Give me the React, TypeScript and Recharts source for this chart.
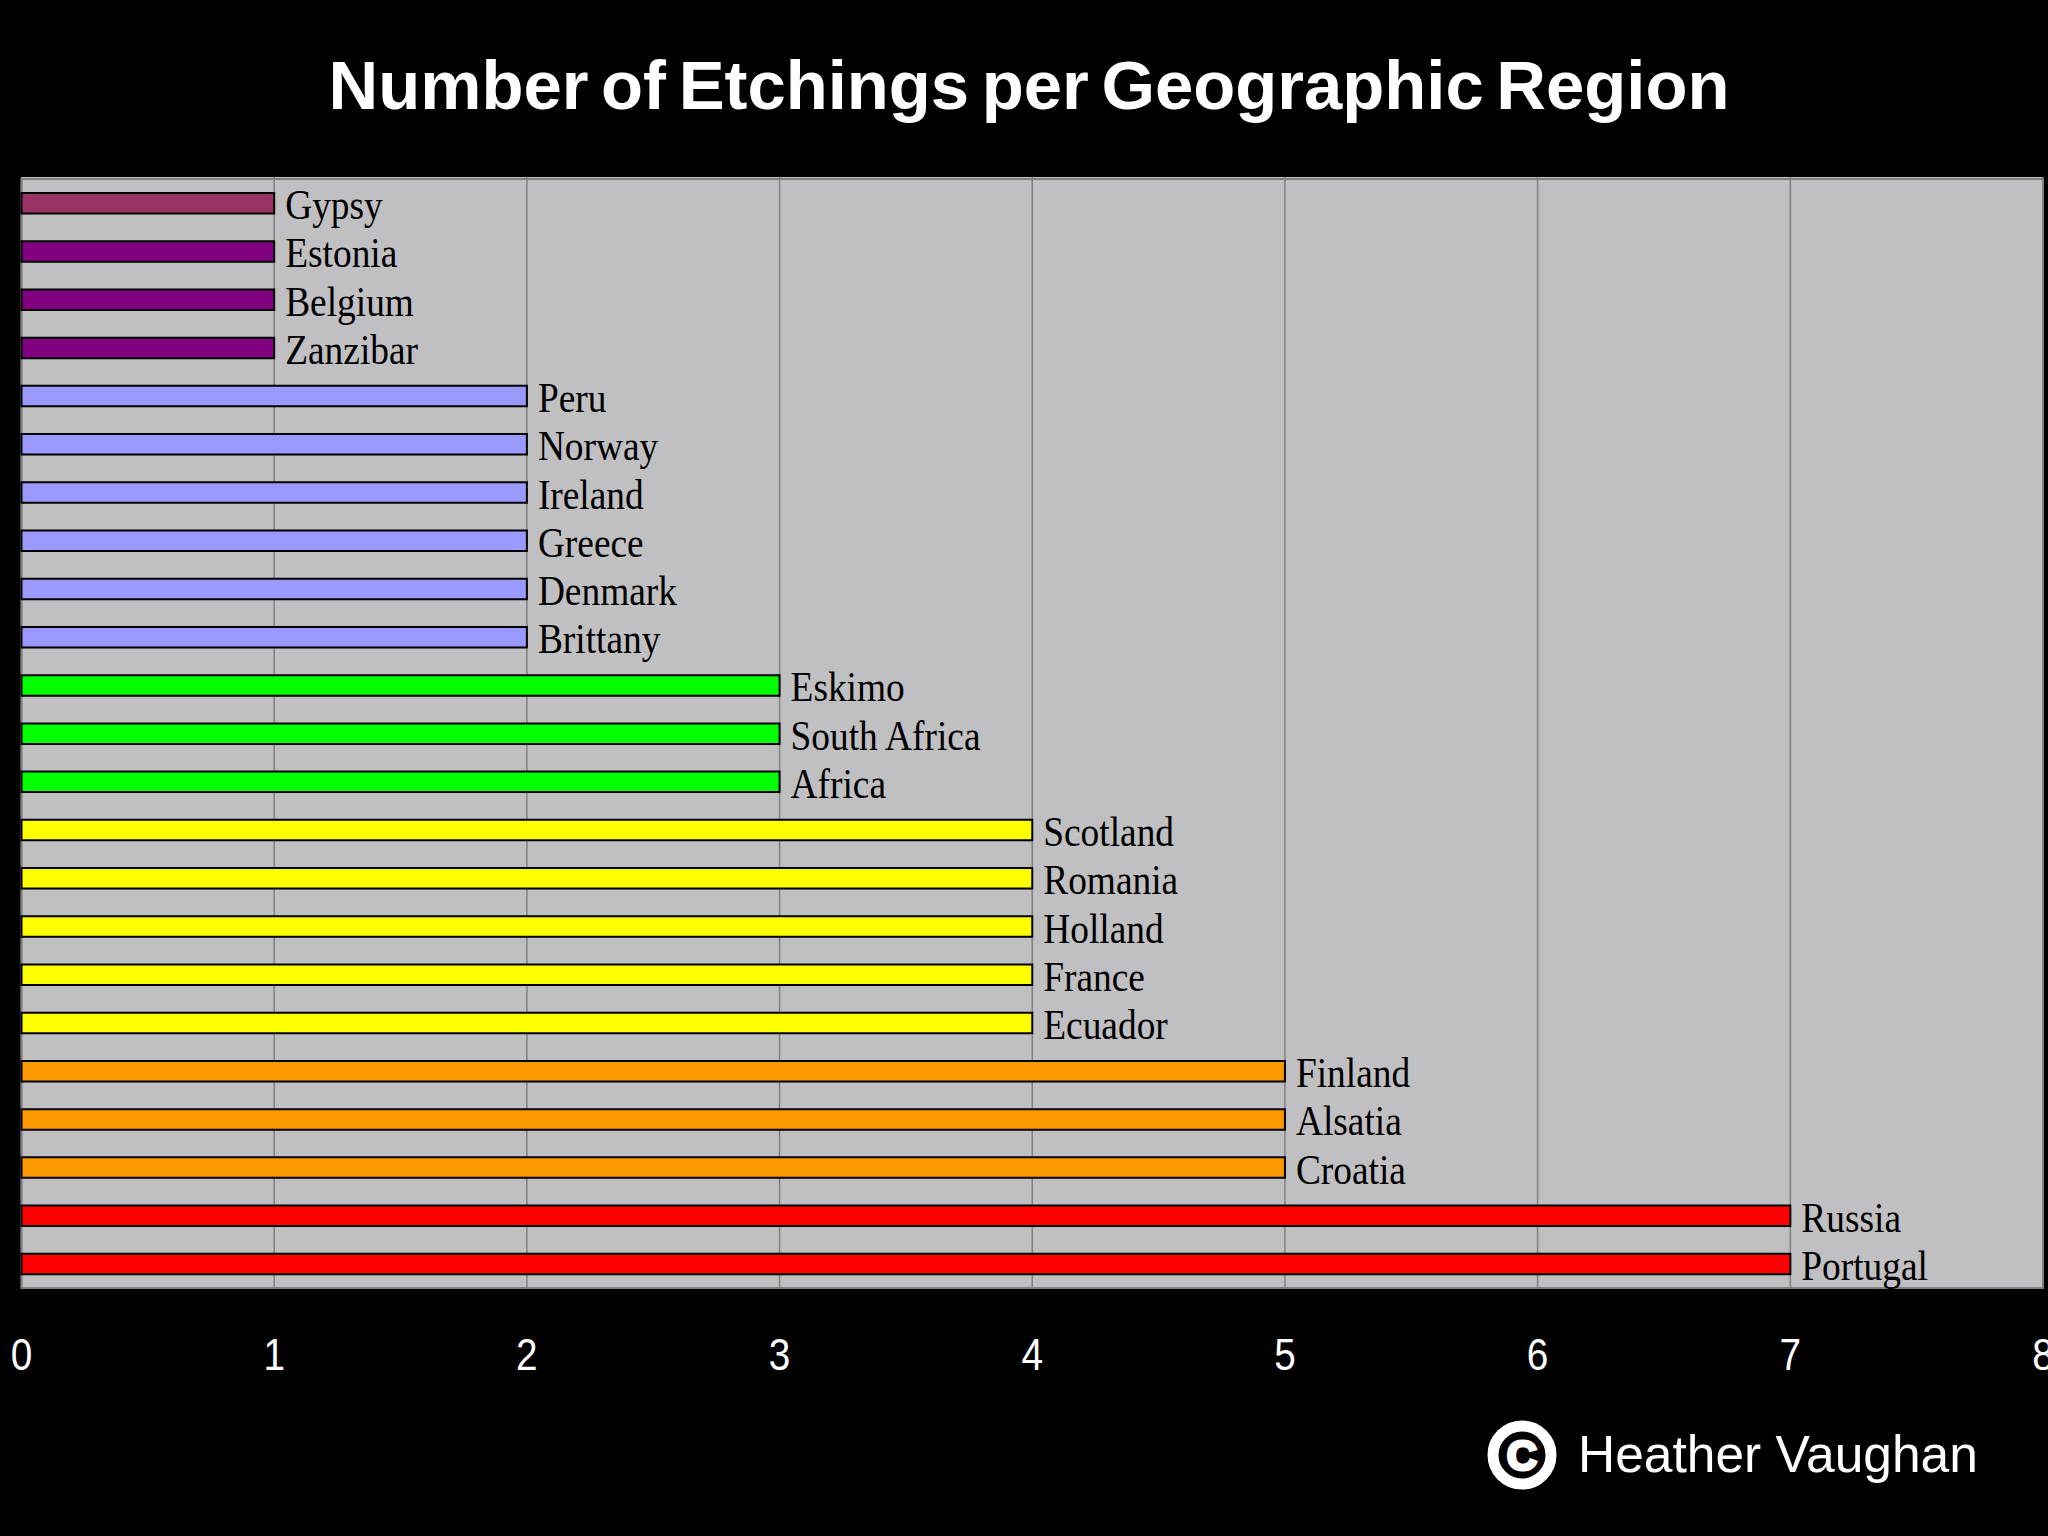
import { BarChart, Bar, Cell, XAxis, YAxis, CartesianGrid, LabelList, ReferenceArea } from 'recharts'

const regions = ['Gypsy', 'Estonia', 'Belgium', 'Zanzibar', 'Peru', 'Norway', 'Ireland', 'Greece', 'Denmark', 'Brittany', 'Eskimo', 'South Africa', 'Africa', 'Scotland', 'Romania', 'Holland', 'France', 'Ecuador', 'Finland', 'Alsatia', 'Croatia', 'Russia', 'Portugal']
const counts = [1, 1, 1, 1, 2, 2, 2, 2, 2, 2, 3, 3, 3, 4, 4, 4, 4, 4, 5, 5, 5, 7, 7]
const barColors = ['#993366', '#800080', '#800080', '#800080', '#9999ff', '#9999ff', '#9999ff', '#9999ff', '#9999ff', '#9999ff', '#00ff00', '#00ff00', '#00ff00', '#ffff00', '#ffff00', '#ffff00', '#ffff00', '#ffff00', '#ff9900', '#ff9900', '#ff9900', '#ff0000', '#ff0000']
const xTicks = [0, 1, 2, 3, 4, 5, 6, 7, 8]

const data = regions.map((name, i) => ({ name, value: counts[i] }))

const RegionLabel = ({ x, y, width, height, value }: any) => (
  <text
    transform={`translate(${x + width + 11},${y + height / 2 + 16}) scale(0.89,1)`}
    fontFamily="Liberation Serif"
    fontSize={42}
    fill="#000"
  >
    {value}
  </text>
)

const XTick = ({ x, y, payload }: any) => (
  <text
    transform={`translate(${x},${y}) scale(0.88,1)`}
    textAnchor="middle"
    fontFamily="Liberation Sans"
    fontSize={44}
    fill="#fff"
  >
    {payload.value}
  </text>
)

export default function App() {
  return (
    <div style={{ position: 'absolute', left: 0, top: 0, width: 2048, height: 1536, background: '#000', overflow: 'hidden' }}>
      <BarChart
        width={2048}
        height={1536}
        data={data}
        layout="vertical"
        barCategoryGap={0}
        margin={{ top: 177, right: 5, bottom: 189, left: 21.5 }}
      >
        <CartesianGrid horizontal={false} fill="#c0bfc1" stroke="#808080" strokeWidth={1.5} />
        <XAxis type="number" domain={[0, 8]} ticks={xTicks} height={60} axisLine={false} tickLine={false} tick={<XTick />} tickMargin={77} interval={0} />
        <YAxis type="category" dataKey="name" width={0} hide padding={{ top: 2, bottom: -1 }} />
        <ReferenceArea x1={0} x2={8} fill="none" stroke="#808080" strokeWidth={2} />
        <Bar dataKey="value" barSize={20.5} stroke="#000" strokeWidth={2} isAnimationActive={false}>
          {data.map((_, i) => <Cell key={i} fill={barColors[i]} />)}
          <LabelList dataKey="name" content={<RegionLabel />} />
        </Bar>
        <text x={1029} y={109} textAnchor="middle" fontFamily="Liberation Sans" fontWeight="bold" fontSize={68.8} wordSpacing={-6.5} fill="#fff">
          Number of Etchings per Geographic Region
        </text>
        <circle cx={1522} cy={1455} r={29} fill="none" stroke="#fff" strokeWidth={11} />
        <text x={1522} y={1470} textAnchor="middle" fontFamily="Liberation Sans" fontWeight="bold" fontSize={42} fill="#fff" stroke="#fff" strokeWidth={3}>C</text>
        <text x={1578} y={1472} fontFamily="Liberation Sans" fontSize={51.5} fill="#fff">Heather Vaughan</text>
      </BarChart>
    </div>
  )
}
